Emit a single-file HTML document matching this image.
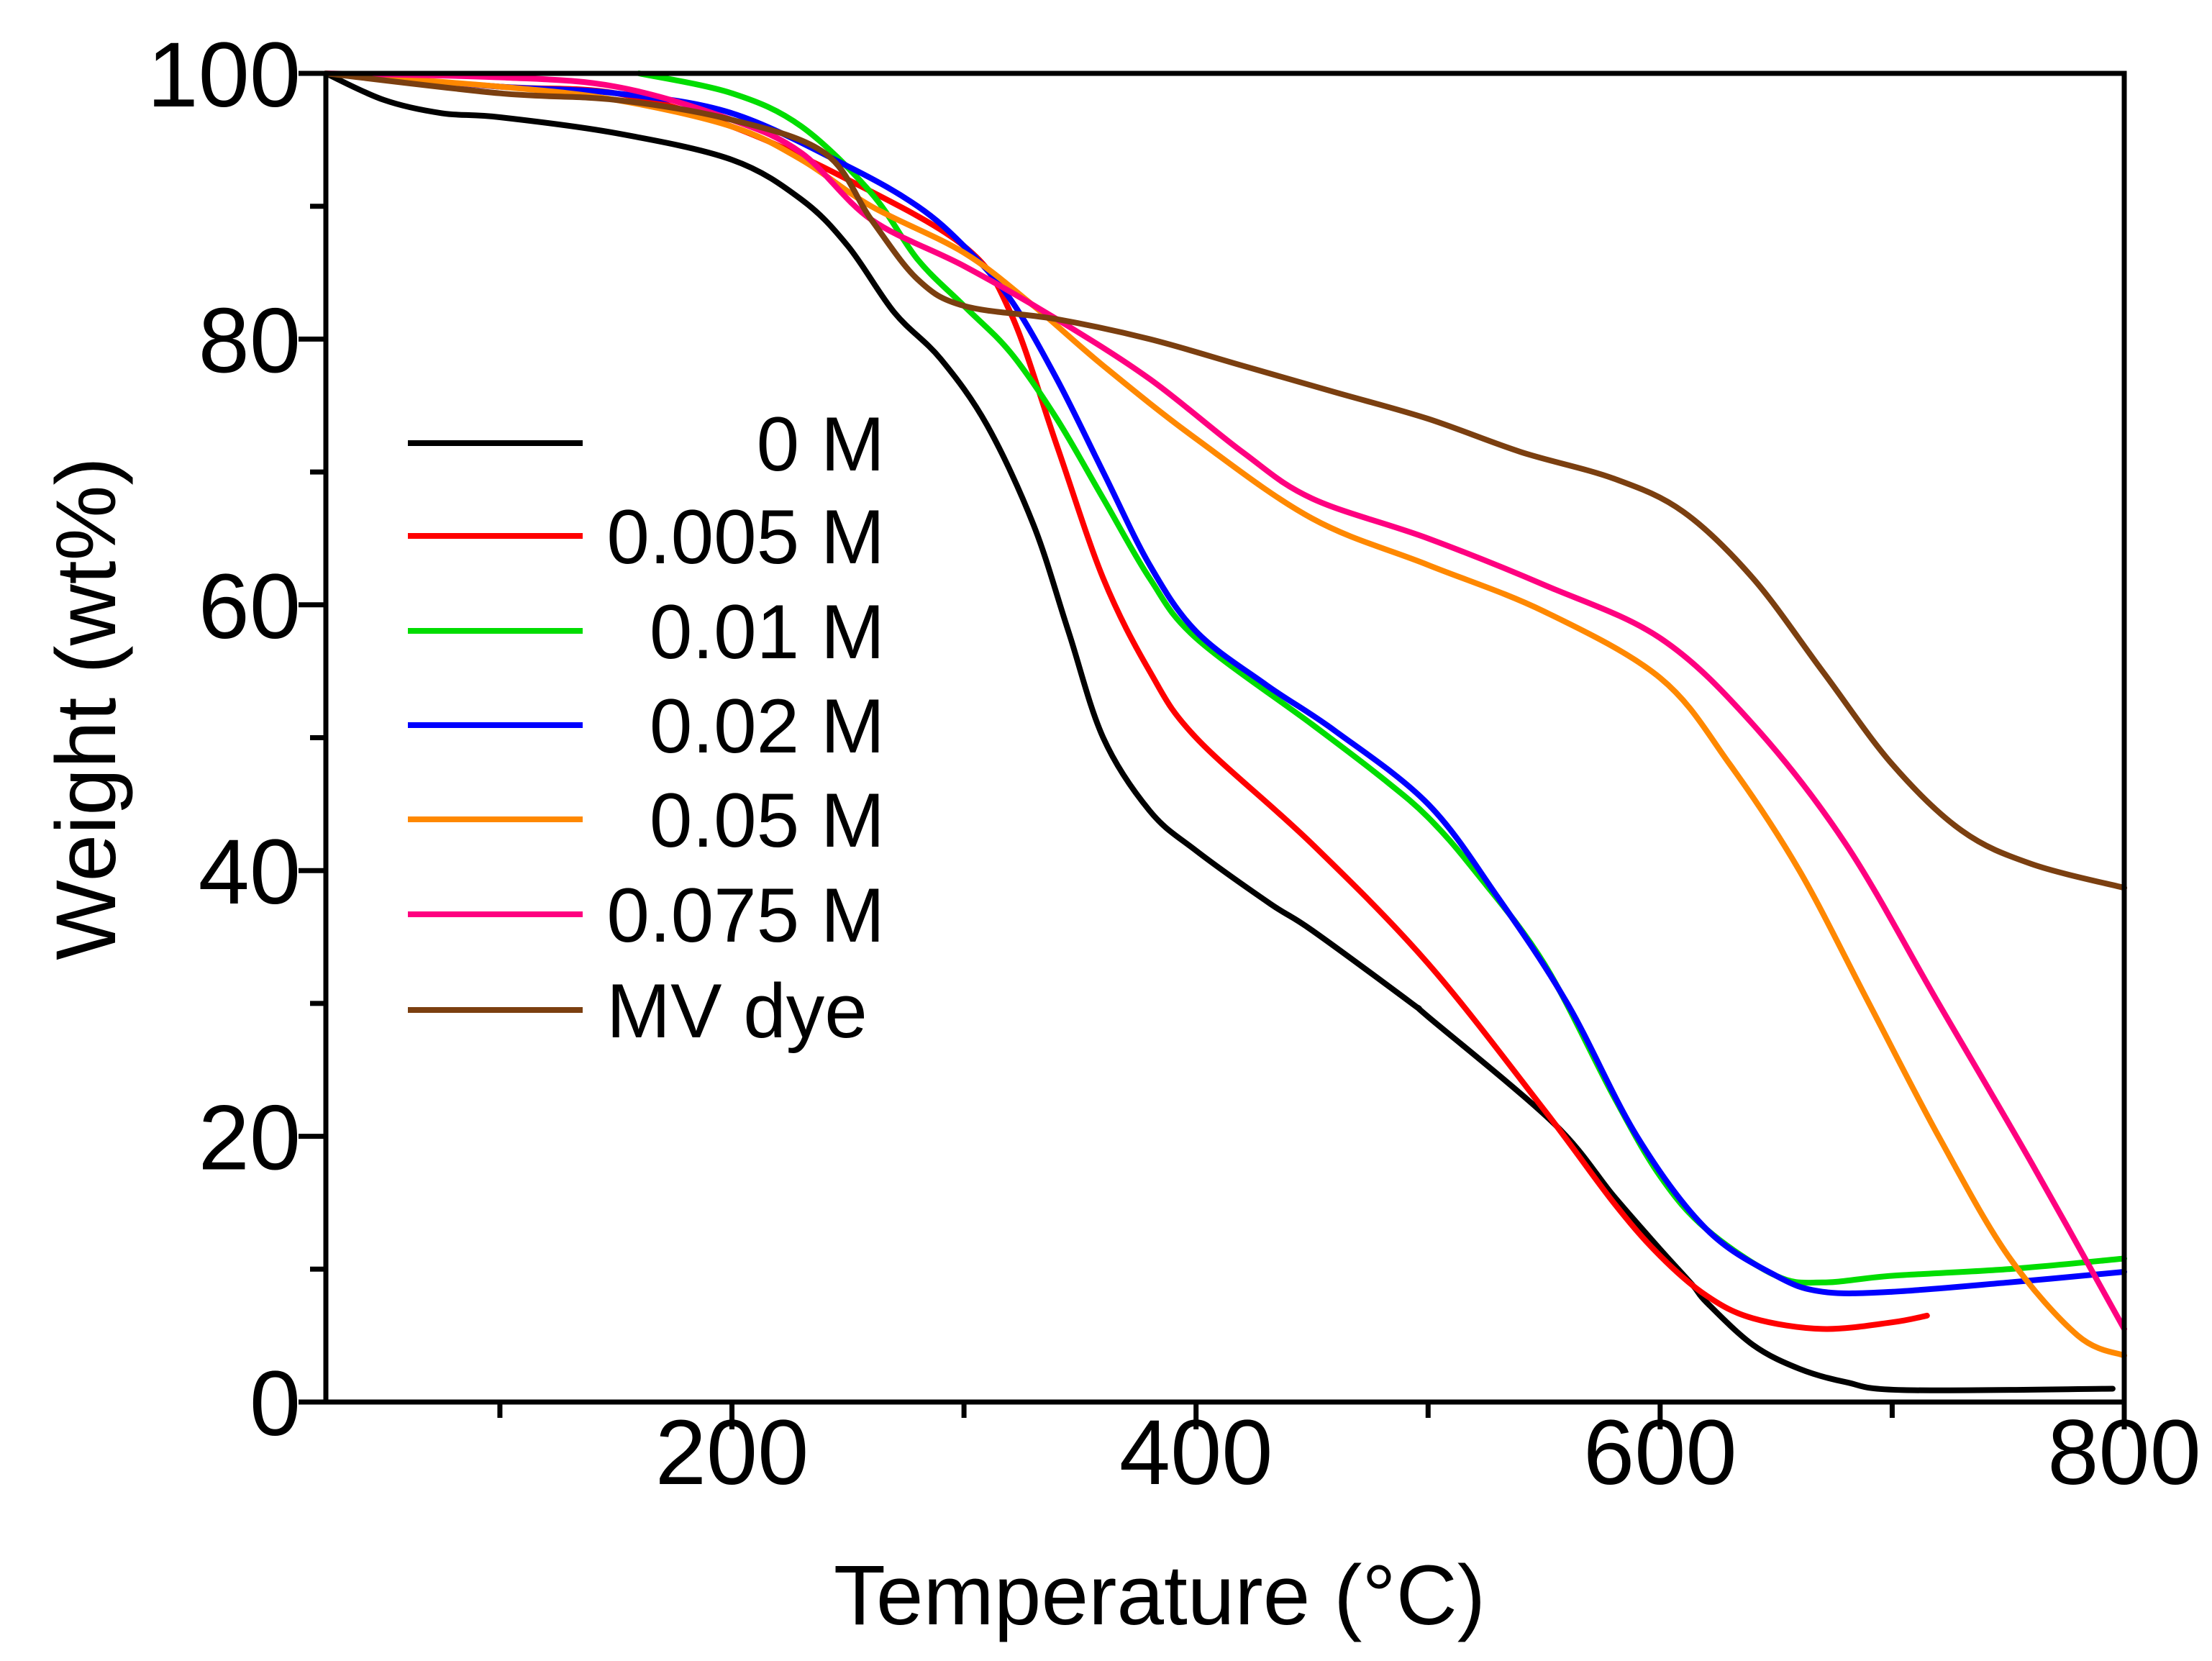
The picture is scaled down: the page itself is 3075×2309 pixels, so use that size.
<!DOCTYPE html>
<html><head><meta charset="utf-8"><style>
html,body{margin:0;padding:0;background:#fff}
svg{display:block}
text{font-family:"Liberation Sans",Arial,sans-serif;fill:#000}
</style></head><body>
<svg id="chart" width="3075" height="2309" viewBox="0 0 3075 2309" xmlns="http://www.w3.org/2000/svg">
<g id="plot"></g>
</svg>
<script>
const xTicks=[200,400,600,800];
const xMinor=[100,300,500,700];
const yTicks=[0,20,40,60,80,100];
const yMinor=[10,30,50,70,90];
const seriesNames=["0 M","0.005 M","0.01 M","0.02 M","0.05 M","0.075 M","MV dye"];
const seriesColors=["#000000","#ff0000","#00dd00","#0000ff","#ff8800","#ff0080","#7b3f10"];
const t0=[25,50,75,100,150,200,230,250,270,290,310,330,345,360,380,400,432,450,493,500,554,580,600,614,620,640,660,680,705,795];
const w0=[100,98,97,96.7,95.5,93.5,90.5,87,82,78.5,73.5,66,58,50,44.5,41.5,37.5,35.5,30,29,21,15.5,11.5,8.8,7.5,4.3,2.5,1.5,0.9,1];
const t1=[25,100,150,200,250,300,320,340,360,380,400,450,500,550,580,600,620,640,670,700,715];
const w1=[100,99,98.5,96,92,87,82,72,62,55,50,42,33,22,15,11,8,6.3,5.5,6,6.5];
const t2=[160,200,230,260,280,300,320,340,360,380,400,450,480,500,520,550,580,600,620,650,670,700,750,800];
const w2=[100,98.5,96,91,86,82.5,79,74,68,62,57.5,51,47,44,40,33,23,17,13,9.5,9,9.5,10,10.8];
const t3=[25,100,150,200,250,280,300,320,340,360,380,400,430,460,500,530,560,590,620,650,670,700,750,800];
const w3=[100,99,98.5,97,93,90,87,83,77,70,63,58,54,50.5,45,38,30,20,13,9.5,8.3,8.3,9,9.8];
const t4=[25,100,150,200,230,260,300,330,360,400,450,500,550,600,630,660,690,720,750,780,800];
const w4=[100,99,98,96,93.5,90,86.5,82.5,78,72.5,66.5,63,59.5,54.5,48,40,30,20,11,5,3.5];
const t5=[25,100,150,200,230,260,300,340,380,420,450,500,550,600,640,680,720,760,800];
const w5=[100,99.7,99,96.5,94,89,85.5,81.5,77,71.5,68,65,61.5,57.5,51,42,30,18,5.5];
const t6=[25,100,150,200,240,260,280,300,340,380,420,460,500,540,580,610,640,670,700,730,760,800];
const w6=[100,98.5,98,96.5,94,89,84.5,82.5,81.5,80,78,76,74,71.5,69.5,67,62,55,48,43,40.5,38.7];
const seriesT=[t0,t1,t2,t3,t4,t5,t6];
const seriesW=[w0,w1,w2,w3,w4,w5,w6];

const L=453,R=2953,T=102,B=1949,XMIN=25,XMAX=800,YMIN=0,YMAX=100;
const sx=v=>L+(v-XMIN)/(XMAX-XMIN)*(R-L);
const sy=v=>B-(v-YMIN)/(YMAX-YMIN)*(B-T);
const NS="http://www.w3.org/2000/svg";
const g=document.getElementById('plot');
function mk(tag,attrs,parent){const e=document.createElementNS(NS,tag);for(const k in attrs)e.setAttribute(k,attrs[k]);(parent||g).appendChild(e);return e;}
function smooth(pts){
  let d='M'+pts[0][0].toFixed(1)+' '+pts[0][1].toFixed(1);
  for(let i=0;i<pts.length-1;i++){
    const p0=pts[Math.max(i-1,0)],p1=pts[i],p2=pts[i+1],p3=pts[Math.min(i+2,pts.length-1)];
    const c1=[p1[0]+(p2[0]-p0[0])/6,p1[1]+(p2[1]-p0[1])/6];
    const c2=[p2[0]-(p3[0]-p1[0])/6,p2[1]-(p3[1]-p1[1])/6];
    d+=' C'+c1[0].toFixed(1)+' '+c1[1].toFixed(1)+' '+c2[0].toFixed(1)+' '+c2[1].toFixed(1)+' '+p2[0].toFixed(1)+' '+p2[1].toFixed(1);
  }
  return d;
}

const sg=mk('g',{});


for(let i=0;i<seriesT.length;i++){
  const pts=seriesT[i].map((t,j)=>[sx(t),sy(seriesW[i][j])]);
  const p=mk('path',{d:smooth(pts),fill:'none',stroke:seriesColors[i],'stroke-width':8,'stroke-linejoin':'round','stroke-linecap':'round'},sg);
  
  
}
const fr=mk('rect',{x:L,y:T,width:R-L,height:B-T,fill:'none',stroke:'#000','stroke-width':7});


xTicks.forEach(v=>{
  const l=mk('line',{x1:sx(v),x2:sx(v),y1:B,y2:B+38,stroke:'#000','stroke-width':7});
  
  
  const t=mk('text',{x:sx(v),y:2063,'font-size':128,'text-anchor':'middle'});
  t.textContent=v;
  
  
});
xMinor.forEach(v=>{
  const l=mk('line',{x1:sx(v),x2:sx(v),y1:B,y2:B+22,stroke:'#000','stroke-width':7});
  
  
});
yTicks.forEach(v=>{
  const l=mk('line',{x1:L-38,x2:L,y1:sy(v),y2:sy(v),stroke:'#000','stroke-width':7});
  
  
  const t=mk('text',{x:418,y:sy(v)+46,'font-size':128,'text-anchor':'end'});
  t.textContent=v;
  
  
});
yMinor.forEach(v=>{
  const l=mk('line',{x1:L-22,x2:L,y1:sy(v),y2:sy(v),stroke:'#000','stroke-width':7});
  
  
});
const xt=mk('text',{x:1612,y:2258,'font-size':118,'text-anchor':'middle'});
xt.textContent='Temperature (°C)';


const yt=mk('text',{x:0,y:0,'font-size':118,'text-anchor':'middle',transform:'translate(160,985) rotate(-90)'});
yt.textContent='Weight (wt%)';


const lg=mk('g',{});


const rows=[616,745,877,1008,1139,1271,1404];
seriesNames.forEach((n,i)=>{
  const l=mk('line',{x1:567,x2:810,y1:rows[i],y2:rows[i],stroke:seriesColors[i],'stroke-width':8},lg);
  
  
  const last=i===seriesNames.length-1;
  const t=mk('text',{x:last?843:1230,y:rows[i]+38,'font-size':107,'text-anchor':last?'start':'end'},lg);
  t.textContent=n;
  
  
});
</script>
</body></html>
